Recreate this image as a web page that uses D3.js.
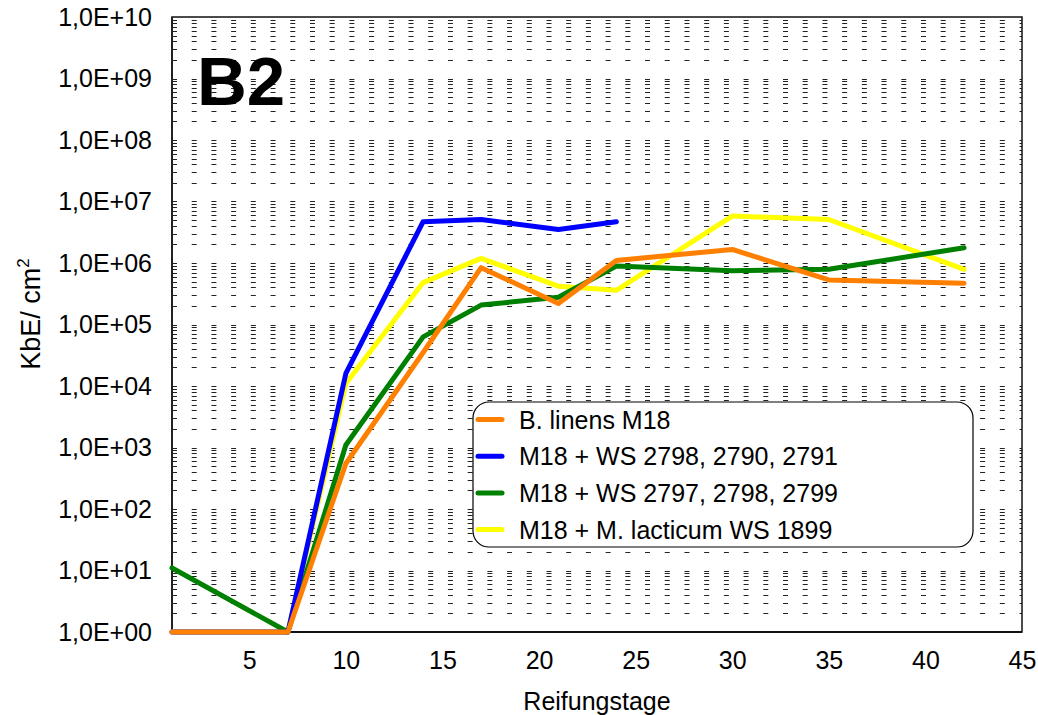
<!DOCTYPE html>
<html>
<head>
<meta charset="utf-8">
<script src="https://cdn.jsdelivr.net/npm/d3@7"></script>
<style>
  html, body { margin: 0; padding: 0; background: #fff; }
  svg { display: block; font-family: "Liberation Sans", Arial, sans-serif; }
</style>
</head>
<body>
<svg id="chart" width="1038" height="715"></svg>
<script>
// ---- data ----
const days = [1, 7, 10, 14, 17, 21, 24, 30, 35, 42];
const seriesNames = ["B. linens M18", "M18 + WS 2798, 2790, 2791", "M18 + WS 2797, 2798, 2799", "M18 + M. lacticum WS 1899"];
const orangeVals = [1, 1, 550, 3.5e4, 8.4e5, 2.2e5, 1.1e6, 1.66e6, 5.3e5, 4.7e5];
const blueVals   = [1, 1, 1.6e4, 4.7e6, 5.1e6, 3.5e6, 4.7e6];
const greenVals  = [11, 1, 1.1e3, 6.3e4, 2.07e5, 2.77e5, 8.9e5, 7.5e5, 7.9e5, 1.77e6];
const yellowVals = [1, 1, 1.1e4, 4.8e5, 1.19e6, 4.2e5, 3.6e5, 5.8e6, 5.1e6, 7.9e5];
const xTicks = [5, 10, 15, 20, 25, 30, 35, 40, 45];
const yTicks = [1e0, 1e1, 1e2, 1e3, 1e4, 1e5, 1e6, 1e7, 1e8, 1e9, 1e10];
const yTickLabels = ["1,0E+00", "1,0E+01", "1,0E+02", "1,0E+03", "1,0E+04", "1,0E+05", "1,0E+06", "1,0E+07", "1,0E+08", "1,0E+09", "1,0E+10"];
const colors = ["#FF8000", "#0000FF", "#008000", "#FFFF00"];

// ---- layout ----
const L = 172, R = 1022, T = 17, B = 632;
const svg = d3.select("#chart");
const x = d3.scaleLinear().domain([1, 45]).range([L, R]);
const y = d3.scaleLog().domain([1, 1e10]).range([B, T]);

// gridlines (all 1..9 x 10^k)
const gridVals = [];
for (let k = 0; k < 10; k++) for (let m = 1; m <= 9; m++) {
  const v = m * Math.pow(10, k);
  if (v > 1) gridVals.push(v);
}
svg.append("g").selectAll("line").data(gridVals).join("line")
  .attr("x1", L).attr("x2", R)
  .attr("y1", d => Math.round(y(d)) + 0.5).attr("y2", d => Math.round(y(d)) + 0.5)
  .attr("stroke", "#222").attr("stroke-width", 1)
  .attr("stroke-dasharray", "5,14.71");

// frame
svg.append("rect").attr("x", L).attr("y", T).attr("width", R - L).attr("height", B - T)
  .attr("fill", "none").attr("stroke", "#111").attr("stroke-width", 1.5);
svg.append("line").attr("x1", L).attr("x2", L).attr("y1", T).attr("y2", B).attr("stroke", "#222").attr("stroke-width", 2);
svg.append("line").attr("x1", L).attr("x2", R).attr("y1", B).attr("y2", B).attr("stroke", "#111").attr("stroke-width", 2);

// axes
const yAxis = svg.append("g").attr("transform", `translate(${L},0)`)
  .call(d3.axisLeft(y).tickValues(yTicks).tickSize(0).tickPadding(20)
    .tickFormat((d, i) => yTickLabels[i]));
yAxis.select(".domain").remove();
yAxis.selectAll("text").attr("font-size", 25).attr("fill", "#000")
  .attr("font-family", "'Liberation Sans', Arial, sans-serif");

const xAxis = svg.append("g").attr("transform", `translate(0,${B})`)
  .call(d3.axisBottom(x).tickValues(xTicks).tickSize(0).tickPadding(19));
xAxis.select(".domain").remove();
xAxis.selectAll("text").attr("font-size", 25).attr("fill", "#000")
  .attr("font-family", "'Liberation Sans', Arial, sans-serif");

// axis titles
svg.append("text").attr("x", (L + R) / 2).attr("y", 710).attr("text-anchor", "middle")
  .attr("font-size", 25).text("Reifungstage");
const yl = svg.append("text").attr("transform", "translate(40,314) rotate(-90)")
  .attr("text-anchor", "middle").attr("font-size", 27);
yl.append("tspan").text("KbE/ cm");
yl.append("tspan").attr("font-size", 17).attr("dy", -11).text("2");

// B2 label
svg.append("text").attr("x", 197).attr("y", 105).attr("font-size", 69).attr("font-weight", "bold").text("B2");

// lines (drawn yellow, green, blue, orange -> orange on top)
const allVals = [orangeVals, blueVals, greenVals, yellowVals];
const line = d3.line().x((d, i) => x(days[i])).y(d => y(d));
[3, 2, 1, 0].forEach(s => {
  svg.append("path").datum(allVals[s])
    .attr("d", line)
    .attr("fill", "none").attr("stroke", colors[s]).attr("stroke-width", 5)
    .attr("stroke-linejoin", "round").attr("stroke-linecap", "round");
});

// legend
const lg = svg.append("g");
lg.append("rect").attr("x", 473).attr("y", 402).attr("width", 500).attr("height", 145)
  .attr("rx", 16).attr("ry", 16).attr("fill", "#fff").attr("stroke", "#000").attr("stroke-width", 1.2);
seriesNames.forEach((name, i) => {
  const cy = 419.5 + i * 36.7;
  lg.append("line").attr("x1", 478).attr("x2", 502).attr("y1", cy).attr("y2", cy)
    .attr("stroke", colors[i]).attr("stroke-width", 5).attr("stroke-linecap", "round");
  lg.append("text").attr("x", 519).attr("y", cy + 9).attr("font-size", 25).text(name);
});
</script>
</body>
</html>
